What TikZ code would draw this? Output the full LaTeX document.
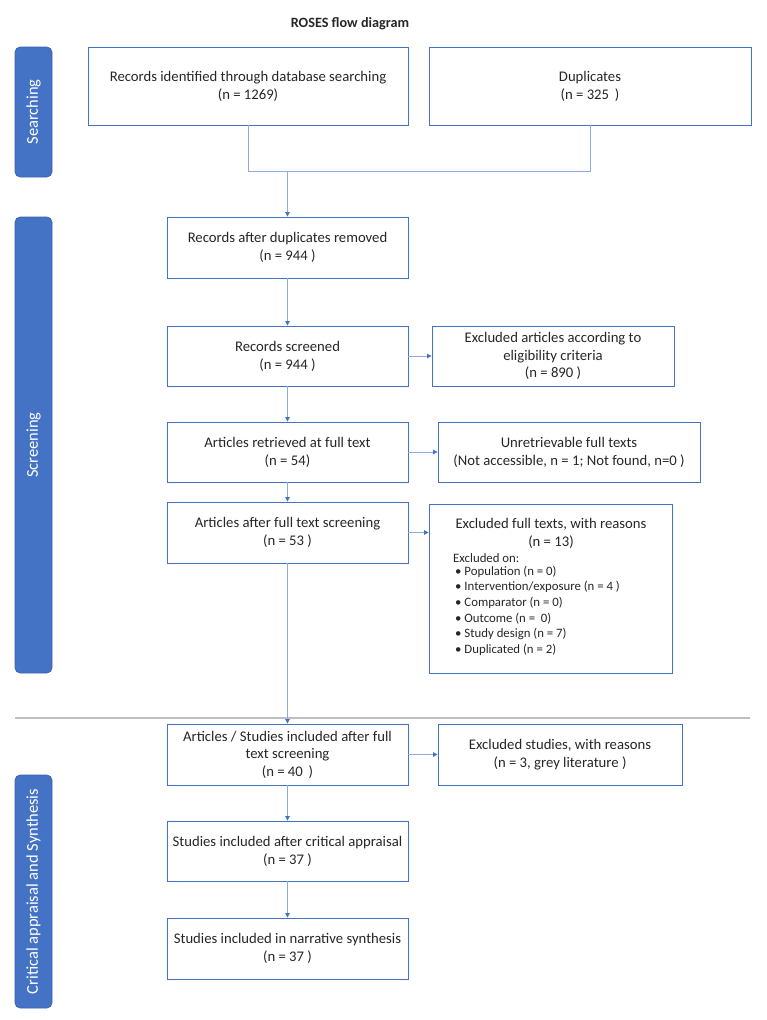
\documentclass[tikz,border=0pt]{standalone}
\usepackage{fontspec}
\setmainfont{Carlito}
\usetikzlibrary{arrows.meta}
\definecolor{barfill}{HTML}{4472C4}
\definecolor{barline}{HTML}{3A62AE}
\definecolor{bord}{HTML}{4472C4}
\definecolor{conn}{HTML}{8FAADC}
\definecolor{sepgray}{HTML}{BFBFBF}
\definecolor{txt}{HTML}{262626}
\begin{document}
\begin{tikzpicture}[x=1pt,y=-1pt,
  box/.style={draw=bord, line width=0.9pt, inner sep=0pt, align=center, text=txt,
    font=\fontsize{14.7}{18}\selectfont},
  plain/.style={inner sep=0pt, align=center, text=txt, font=\fontsize{14.7}{18.5}\selectfont},
  small/.style={inner sep=0pt, align=left, text=txt, font=\fontsize{12.8}{15.7}\selectfont},
  sidebar/.style={draw=barline, line width=0.6pt, fill=barfill, rounded corners=5pt, rotate=90,
    minimum height=37pt, inner sep=0pt, text=white, font=\fontsize{16.5}{19}\selectfont},
  conn/.style={draw=conn, line width=0.9pt},
  arr/.style={conn, -{Triangle[width=4.5pt,length=4.5pt,color=bord]}}
]
\useasboundingbox (0,0) rectangle (767,1020);

% title
\node[plain, font=\fontsize{14.2}{17}\selectfont\bfseries] (title) at (350,24) {ROSES flow diagram};

% side bars
\node[sidebar, minimum width=130pt] (sbar) at (33.5,112) {Searching};
\node[sidebar, minimum width=456pt] (scbar) at (33.5,445) {Screening};
\node[sidebar, minimum width=233pt] (cbar) at (33.5,891.5) {Critical appraisal and Synthesis};

% separator
\coordinate (sepL) at (15,718);
\coordinate (sepR) at (750,718);
\draw[sepgray, line width=2.2pt] (sepL) -- (sepR);

% boxes
\node[box, minimum width=320pt, minimum height=78pt] (b1) at (248,86)
  {Records identified through database searching\\(n = 1269)};
\node[box, minimum width=322pt, minimum height=78pt] (dup) at (590,86)
  {Duplicates\\(n = 325 \,)};
\node[box, minimum width=241pt, minimum height=61pt] (b2) at (287.5,247.5)
  {Records after duplicates removed\\(n = 944 )};
\node[box, minimum width=241pt, minimum height=60pt] (b3) at (287.5,356)
  {Records screened\\(n = 944 )};
\node[box, minimum width=242pt, minimum height=60pt, font=\fontsize{14.7}{17.5}\selectfont] (ex1) at (553,356)
  {Excluded articles according to\\eligibility criteria\\(n = 890 )};
\node[box, minimum width=262pt, minimum height=60pt] (ex2) at (569,452)
  {Unretrievable full texts\\(Not accessible, n = 1; Not found, n=0 )};
\node[box, minimum width=241pt, minimum height=60pt] (b4) at (287.5,452)
  {Articles retrieved at full text\\(n = 54)};
\node[box, minimum width=241pt, minimum height=61pt] (b5) at (287.5,532.5)
  {Articles after full text screening\\(n = 53 )};
\node[box, minimum width=243pt, minimum height=169pt] (ex3) at (550.5,588.5) {};
\node[plain] (ex3t) at (551,533.5) {Excluded full texts, with reasons\\(n = 13)};
\node[small, anchor=west] (ex3on) at (453,558) {Excluded on:};
\node[small, anchor=north west] (ex3list) at (455,565.5)
  {• Population (n = 0)\\
   • Intervention/exposure (n = 4 )\\
   • Comparator (n = 0)\\
   • Outcome (n = \ 0)\\
   • Study design (n = 7)\\
   • Duplicated (n = 2)};
\node[box, minimum width=241pt, minimum height=61pt, font=\fontsize{14.7}{17.5}\selectfont] (b6) at (287.5,754.5)
  {Articles / Studies included after full\\text screening\\(n = 40 \,)};
\node[box, minimum width=244pt, minimum height=61pt] (ex4) at (560,754.5)
  {Excluded studies, with reasons\\(n = 3, grey literature )};
\node[box, minimum width=241pt, minimum height=60pt] (b7) at (287.5,851)
  {Studies included after critical appraisal\\(n = 37 )};
\node[box, minimum width=241pt, minimum height=61pt] (b8) at (287.5,948.5)
  {Studies included in narrative synthesis\\(n = 37 )};

% connectors
\coordinate (j) at (287.5,171);
\draw[conn] (b1.south) |- (dup.south |- j) -- (dup.south);
\draw[arr] (j) -- (b2.north);
\draw[arr] (b2.south) -- (b3.north);
\draw[arr] (b3.east) -- (ex1.west);
\draw[arr] (b3.south) -- (b4.north);
\draw[arr] (b4.east) -- (ex2.west);
\draw[arr] (b4.south) -- (b5.north);
\draw[arr] (b5.east) -- (b5.east -| ex3.west);
\draw[arr] (b5.south) -- (b6.north);
\draw[arr] (b6.east) -- (ex4.west);
\draw[arr] (b6.south) -- (b7.north);
\draw[arr] (b7.south) -- (b8.north);
\end{tikzpicture}
\end{document}
